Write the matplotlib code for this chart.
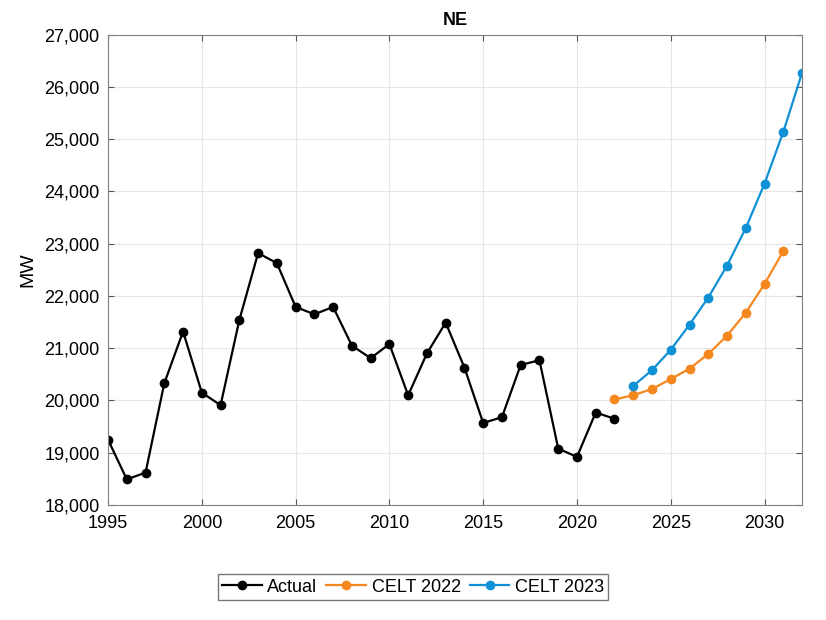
import matplotlib
matplotlib.use('Agg')
import matplotlib.pyplot as plt
from matplotlib.ticker import FuncFormatter

plt.rcParams['font.family'] = ['Liberation Sans', 'DejaVu Sans']

years_actual = list(range(1995, 2023))
actual = [19250, 18490, 18620, 20330, 21320, 20150, 19910, 21540, 22820, 22630,
          21790, 21650, 21790, 21050, 20810, 21080, 20100, 20900, 21490, 20630,
          19570, 19680, 20680, 20770, 19080, 18920, 19770, 19650]

years_2022 = list(range(2022, 2032))
celt_2022 = [20020, 20100, 20220, 20410, 20610, 20890, 21240, 21680, 22230, 22860]

years_2023 = list(range(2023, 2033))
celt_2023 = [20280, 20580, 20970, 21450, 21970, 22580, 23300, 24150, 25140, 26270]

fig = plt.figure(figsize=(8.26, 6.2), dpi=100)
ax = fig.add_axes([0.1308, 0.1855, 0.8402, 0.7585])

ax.plot(years_actual, actual, '-o', color='black', lw=1.6, ms=6, label='Actual')
ax.plot(years_2022, celt_2022, '-o', color='#F5871F', lw=1.6, ms=6, label='CELT 2022')
ax.plot(years_2023, celt_2023, '-o', color='#1191D5', lw=1.6, ms=6, label='CELT 2023')

ax.set_xlim(1995, 2032)
ax.set_ylim(18000, 27000)
ax.set_xticks(range(1995, 2031, 5))
ax.set_yticks(range(18000, 27001, 1000))
ax.yaxis.set_major_formatter(FuncFormatter(lambda v, p: f'{int(v):,}'))
ax.tick_params(direction='in', top=True, right=True, labelsize=13, color='#555555', length=4)
ax.tick_params(axis='x', pad=7)
ax.tick_params(axis='y', pad=6)
ax.grid(True, color='#e6e6e6', lw=0.8)
ax.set_axisbelow(True)
for s in ax.spines.values():
    s.set_color('#808080')

ax.set_title('NE', fontsize=13, fontweight='bold', pad=7)
ax.set_ylabel('MW', fontsize=14, labelpad=6)

fig.legend(loc='center', bbox_to_anchor=(0.5, 0.053), ncol=3, fontsize=13,
           frameon=True, fancybox=False, edgecolor='#555555', handlelength=2.2,
           columnspacing=0.5, handletextpad=0.3, borderpad=0.25)

fig.savefig('out.png', dpi=100)
